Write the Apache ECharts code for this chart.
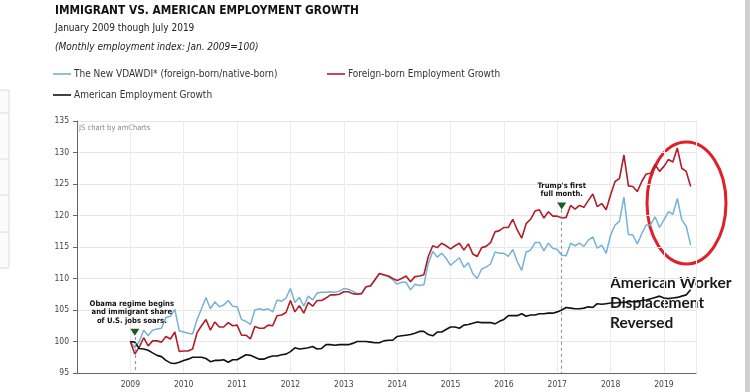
<!DOCTYPE html>
<html>
<head>
<meta charset="utf-8">
<script src="https://cdn.jsdelivr.net/npm/echarts@6/dist/echarts.min.js"></script>
<style>
html,body{margin:0;padding:0;background:#fff;}
#chart{width:750px;height:392px;}
</style>
</head>
<body>
<div id="chart"></div>
<script>
// ---- data (monthly, Jan 2009 .. Jul 2019) ----
const startYear = 2009;
const seriesNames = ['The New VDAWDI* (foreign-born/native-born)', 'Foreign-born Employment Growth', 'American Employment Growth'];
const vdawdi = [
  100, 99.0, 100.0, 101.8, 100.9, 101.8, 102.0, 102.1, 103.8, 104.0, 105.1, 101.7,
  101.5, 101.3, 101.2, 103.5, 105.2, 107.0, 105.2, 106.3, 105.5, 105.8, 106.5, 105.6,
  105.5, 103.5, 103.2, 102.7, 105.0, 105.2, 105.0, 105.2, 104.7, 106.6, 106.4, 106.9,
  108.4, 106.2, 107.0, 105.6, 107.2, 106.6, 107.7, 107.8, 107.8, 107.9, 107.8, 108.0,
  108.4, 108.3, 108.0, 107.6, 107.6, 108.7, 108.8, 109.8, 110.8, 110.5, 110.3, 109.8,
  109.1, 109.4, 109.4, 108.2, 109.1, 108.9, 109.0, 112.4, 114.3, 113.4, 114.0, 113.2,
  112.1, 112.7, 113.3, 111.8, 112.5, 110.8, 110.0, 111.5, 111.8, 112.3, 114.2, 114.0,
  114.0, 113.5, 114.6, 112.7, 111.3, 114.2, 114.5, 115.7, 115.7, 114.4, 115.6, 114.8,
  114.6, 113.7, 113.6, 115.6, 115.2, 115.6, 115.1, 116.1, 116.6, 114.8, 115.3, 114.0,
  116.9, 118.5, 119.1, 122.9, 117.0, 116.9, 115.5, 117.1, 118.5, 118.5, 119.8, 118.1,
  119.3, 120.6, 120.2, 122.7, 119.3, 118.3, 115.3
];
const foreignBorn = [
  100, 98.0, 99.1, 100.6, 99.3, 100.1, 100.1, 99.9, 100.8, 100.4, 101.5, 98.4,
  98.5, 98.5, 98.8, 101.4, 102.5, 103.5, 101.8, 103.1, 102.3, 102.3, 103.0, 102.5,
  102.6, 101.0, 101.0, 100.4, 102.4, 102.1, 102.1, 102.6, 102.5, 104.1, 104.2, 104.6,
  106.5, 104.7, 105.7, 104.5, 106.2, 105.6, 106.5, 106.5, 106.9, 107.4, 107.4, 107.5,
  107.9, 107.9, 107.6, 107.5, 107.6, 108.7, 108.8, 109.8, 110.8, 110.6, 110.4, 110.0,
  109.7, 110.0, 110.4, 109.5, 110.3, 110.4, 110.6, 113.5, 115.2, 114.9, 115.6, 115.2,
  114.7, 115.2, 115.6, 114.5, 115.5, 113.9, 113.5, 114.9, 115.1, 115.7, 117.4, 117.6,
  118.1, 118.1, 119.4, 117.7, 116.4, 118.7, 119.4, 120.7, 120.9, 119.6, 120.6, 119.9,
  119.9, 119.6, 119.7, 121.6, 121.0, 121.6, 121.3, 122.4, 123.4, 121.4, 121.9, 120.9,
  123.3, 125.4, 125.9, 129.6, 124.7, 124.6, 123.8, 125.4, 126.6, 126.7, 128.1, 127.0,
  127.8, 128.9, 128.5, 130.7, 127.5, 127.0, 124.6
];
const american = [
  100, 99.9, 98.9, 98.8, 98.6, 98.2, 97.8, 97.6, 97.0, 96.6, 96.5, 96.7,
  97.0, 97.2, 97.5, 97.5, 97.5, 97.3, 96.8, 97.0, 97.0, 97.1, 96.7, 97.1,
  97.1, 97.5, 97.9, 97.8, 97.5, 97.2, 97.2, 97.5, 97.7, 97.7, 97.9, 98.0,
  98.4, 99.0, 98.8, 98.9, 99.0, 99.2, 98.8, 98.9, 99.5, 99.5, 99.4, 99.5,
  99.5, 99.5, 99.7, 100.0, 100.0, 100.0, 99.9, 99.8, 99.8, 100.1, 100.2, 100.2,
  100.8, 100.9, 101.0, 101.1, 101.3, 101.6, 101.6, 101.1, 100.9, 101.5, 101.5, 101.9,
  102.3, 102.3, 102.1, 102.6, 102.7, 102.9, 103.1, 103.0, 103.0, 103.0, 102.8, 103.2,
  103.5, 104.1, 104.1, 104.1, 104.4, 104.0, 104.2, 104.2, 104.4, 104.4, 104.5, 104.5,
  104.7, 105.0, 105.4, 105.3, 105.2, 105.2, 105.3, 105.5, 105.4, 106.0, 105.9, 106.0,
  106.1, 106.1, 106.2, 106.2, 106.3, 106.3, 106.3, 106.5, 106.6, 106.8, 107.0, 107.2,
  106.9, 106.8, 106.9, 107.0, 107.2, 107.4, 108.2
];
const yTicks = [95, 100, 105, 110, 115, 120, 125, 130, 135];
const xYearLabels = [2009, 2010, 2011, 2012, 2013, 2014, 2015, 2016, 2017, 2018, 2019];
// events: [decimal date, marker value, dashed line top value, label]
const events = [
  [2009 + 1/12, 101.45, 100.7, 'Obama regime begins\nand immigrant share\nof U.S. jobs soars.'],
  [2017 + 1/12, 121.5, 120.9, "Trump's first\nfull month."]
];

function toPairs(arr) { return arr.map((v, i) => [startYear + i / 12, v]); }

const FONT = "'DejaVu Sans Condensed', 'DejaVu Sans', sans-serif";
const colors = ['#74b2d8', '#b11e28', '#111111'];

const chart = echarts.init(document.getElementById('chart'), null, {renderer: 'canvas'});

function legendFor(i, left, top) {
  return {
    data: [seriesNames[i]], left: left, top: top, icon: 'rect', itemWidth: 18, itemHeight: 1.6,
    itemGap: 0, padding: 0, selectedMode: false,
    textStyle: {fontFamily: FONT, fontSize: 10, color: '#333', padding: [0, 0, 0, -2]}
  };
}

const option = {
  animation: false,
  backgroundColor: '#fff',
  title: [
    {text: 'IMMIGRANT VS. AMERICAN EMPLOYMENT GROWTH', left: 55, top: 5, padding: 0,
     textStyle: {fontFamily: FONT, fontSize: 11.8, fontWeight: 'bold', color: '#111'}},
    {text: 'January 2009 though July 2019', left: 55, top: 23, padding: 0,
     textStyle: {fontFamily: FONT, fontSize: 10, fontWeight: 'normal', color: '#222'}},
    {text: '(Monthly employment index: Jan. 2009=100)', left: 55, top: 42, padding: 0,
     textStyle: {fontFamily: FONT, fontSize: 10, fontWeight: 'normal', fontStyle: 'italic', color: '#222'}}
  ],
  legend: [legendFor(0, 53, 69), legendFor(1, 327, 69), legendFor(2, 53, 90)],
  grid: {left: 77, right: 54, top: 121, bottom: 19, containLabel: false},
  xAxis: {
    type: 'value', min: 2008, max: 2019.6, interval: 1,
    axisLine: {show: true, lineStyle: {color: '#666', width: 1}},
    axisTick: {show: false},
    splitLine: {show: true, lineStyle: {color: '#ececec', width: 1}},
    axisLabel: {
      showMinLabel: false, showMaxLabel: false, margin: 7,
      fontFamily: FONT, fontSize: 8.5, color: '#444',
      formatter: v => xYearLabels.indexOf(Math.round(v)) >= 0 && Math.abs(v - Math.round(v)) < 1e-6 ? String(Math.round(v)) : ''
    }
  },
  yAxis: {
    type: 'value', min: yTicks[0], max: yTicks[yTicks.length - 1], interval: 5,
    axisLine: {show: true, lineStyle: {color: '#666', width: 1}},
    axisTick: {show: true, length: 4, lineStyle: {color: '#666'}},
    splitLine: {show: true, lineStyle: {color: '#e6e6e6', width: 1}},
    axisLabel: {fontFamily: FONT, fontSize: 8.5, color: '#444', margin: 8}
  },
  series: [
    {
      name: seriesNames[0], type: 'line', data: toPairs(vdawdi), showSymbol: false, symbol: 'none',
      lineStyle: {color: colors[0], width: 1.5}, itemStyle: {color: colors[0]}, z: 2,
      markLine: {
        silent: true, symbol: 'none', label: {show: false},
        lineStyle: {color: '#999', type: [3, 3], width: 1.2},
        data: events.map(e => [{coord: [e[0], e[2]]}, {coord: [e[0], yTicks[0]]}])
      }
    },
    {
      name: seriesNames[1], type: 'line', data: toPairs(foreignBorn), showSymbol: false, symbol: 'none',
      lineStyle: {color: colors[1], width: 1.6}, itemStyle: {color: colors[1]}, z: 3
    },
    {
      name: seriesNames[2], type: 'line', data: toPairs(american), showSymbol: false, symbol: 'none',
      lineStyle: {color: colors[2], width: 1.6}, itemStyle: {color: colors[2]}, z: 4,
      markPoint: {
        silent: true, symbol: 'triangle', symbolRotate: 180, symbolSize: [9, 7],
        itemStyle: {color: '#1c5a1c'},
        label: {show: true, position: 'top', distance: 4, fontFamily: FONT, fontSize: 7.6,
                fontWeight: 'bold', color: '#111', lineHeight: 8.3},
        data: events.map((e, i) => ({coord: [e[0], e[1]], value: e[3],
          label: {formatter: e[3], offset: i === 0 ? [-3, 0] : [0, 0]}}))
      }
    }
  ],
  graphic: [
    {type: 'text', left: 79, top: 124, silent: true,
     style: {text: 'JS chart by amCharts', fontFamily: FONT, fontSize: 7.5, fill: '#888'}},
    {type: 'ellipse', silent: true, shape: {cx: 686.5, cy: 203, rx: 39.5, ry: 61},
     style: {fill: 'none', stroke: '#e02028', lineWidth: 3}},
    {type: 'text', left: 610, top: 273, silent: true,
     style: {text: 'American Worker\nDisplacement\nReversed', fontFamily: "Lato, 'Open Sans', sans-serif",
             fontSize: 15.5, fontWeight: 'bold', fill: '#1a1a1a', lineHeight: 20}},
    {type: 'rect', silent: true, shape: {x: -1, y: 90, width: 10, height: 178},
     style: {fill: '#fbfbfb', stroke: '#dcdcdc', lineWidth: 1}},
    {type: 'line', silent: true, shape: {x1: 0, y1: 113, x2: 9, y2: 113}, style: {stroke: '#dcdcdc'}},
    {type: 'line', silent: true, shape: {x1: 0, y1: 159, x2: 9, y2: 159}, style: {stroke: '#dcdcdc'}},
    {type: 'line', silent: true, shape: {x1: 0, y1: 195, x2: 9, y2: 195}, style: {stroke: '#dcdcdc'}},
    {type: 'line', silent: true, shape: {x1: 0, y1: 232, x2: 9, y2: 232}, style: {stroke: '#dcdcdc'}},
    {type: 'rect', silent: true, shape: {x: 745, y: 0, width: 5, height: 392},
     style: {fill: '#cfcfcf'}}
  ]
};
chart.setOption(option);
</script>
</body>
</html>
